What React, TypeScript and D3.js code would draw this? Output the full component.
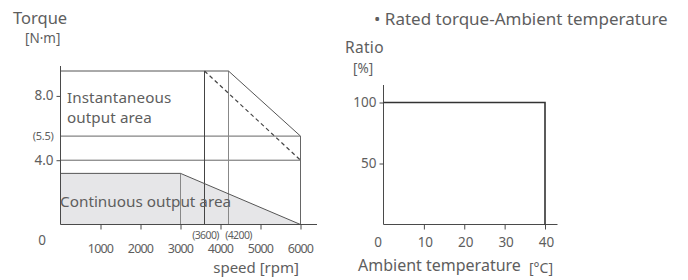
import React, { useEffect, useRef } from 'react';
import * as d3 from 'd3';

// speed-torque chart
const speedTicks = [1000, 2000, 3000, 4000, 5000, 6000];
const torqueTicks = [8, 5.5, 4];
const torqueTickLabels = ['8.0', '(5.5)', '4.0'];
const markSpeeds = [3600, 4200];
const markSpeedLabels = ['(3600)', '(4200)'];

const peakSpeed = [0, 4200, 6000];
const peakTorque = [9.55, 9.55, 5.5];
const dashSpeed = [3600, 6000];
const dashTorque = [9.55, 4.0];
const contSpeed = [0, 3000, 6000];
const contTorque = [3.18, 3.18, 0];

// rated torque - ambient temperature
const tempTicks = [10, 20, 30, 40];
const ratioTicks = [100, 50];
const ratedTemp = [0, 40, 40];
const ratedRatio = [100, 100, 0];

const FONT = '"Noto Sans", sans-serif';
const TEXT = '#5e5e5e';
const LINE = '#4a4a4a';

export default function App() {
  const ref = useRef<SVGSVGElement>(null);

  useEffect(() => {
    if (!ref.current) return;
    const svg = d3.select(ref.current);
    svg.selectAll('*').remove();

    const txt = (x: number, y: number, s: string, size: number, anchor = 'start', ls = 0) =>
      svg
        .append('text')
        .attr('x', x)
        .attr('y', y)
        .attr('font-size', size)
        .attr('font-family', FONT)
        .attr('fill', TEXT)
        .attr('text-anchor', anchor)
        .attr('letter-spacing', ls)
        .text(s);

    // ---------- left chart ----------
    const x = d3.scaleLinear().domain([0, 6000]).range([60.5, 300.5]);
    const y = d3.scaleLinear().domain([0, 9.55]).range([224.5, 71]);

    const pts = (xs: number[], ys: number[]) => xs.map((v, i) => [v, ys[i]] as [number, number]);
    const line = d3
      .line<[number, number]>()
      .x((d) => x(d[0]))
      .y((d) => y(d[1]));

    // continuous area fill
    svg
      .append('path')
      .attr(
        'd',
        d3
          .area<[number, number]>()
          .x((d) => x(d[0]))
          .y0(y(0))
          .y1((d) => y(d[1]))(pts(contSpeed, contTorque)),
      )
      .attr('fill', '#e6e6e8');

    // horizontal guide lines
    [5.5, 4].forEach((t) => {
      svg
        .append('line')
        .attr('x1', x(0))
        .attr('x2', x(6000))
        .attr('y1', y(t))
        .attr('y2', y(t))
        .attr('stroke', '#666')
        .attr('stroke-width', 1);
    });

    // vertical guides
    markSpeeds.forEach((s, i) => {
      svg
        .append('line')
        .attr('x1', x(s))
        .attr('x2', x(s))
        .attr('y1', y(peakTorque[0]))
        .attr('y2', y(0))
        .attr('stroke', i === 0 ? '#444' : '#888')
        .attr('stroke-width', 1);
    });
    svg
      .append('line')
      .attr('x1', x(contSpeed[1]))
      .attr('x2', x(contSpeed[1]))
      .attr('y1', y(contTorque[1]))
      .attr('y2', y(0))
      .attr('stroke', '#888');
    svg
      .append('line')
      .attr('x1', x(6000))
      .attr('x2', x(6000))
      .attr('y1', y(peakTorque[2]))
      .attr('y2', y(0))
      .attr('stroke', '#666');

    // instantaneous outline
    svg
      .append('path')
      .attr('d', line(pts(peakSpeed, peakTorque)))
      .attr('fill', 'none')
      .attr('stroke', '#555')
      .attr('stroke-width', 1);
    svg
      .append('path')
      .attr('d', line(pts(dashSpeed, dashTorque)))
      .attr('fill', 'none')
      .attr('stroke', '#444')
      .attr('stroke-width', 1.2)
      .attr('stroke-dasharray', '4,3');
    // continuous outline
    svg
      .append('path')
      .attr('d', line(pts(contSpeed, contTorque)))
      .attr('fill', 'none')
      .attr('stroke', '#555');

    // axes
    svg
      .append('line')
      .attr('x1', x(0))
      .attr('x2', x(0))
      .attr('y1', 66)
      .attr('y2', y(0))
      .attr('stroke', LINE);
    svg
      .append('line')
      .attr('x1', x(0))
      .attr('x2', 317)
      .attr('y1', y(0))
      .attr('y2', y(0))
      .attr('stroke', LINE);

    const xAxis = svg
      .append('g')
      .attr('transform', `translate(0,${y(0)})`)
      .call(d3.axisBottom(x).tickValues(speedTicks).tickSize(5).tickSizeOuter(0).tickFormat(() => ''));
    xAxis.select('.domain').remove();
    xAxis.selectAll('line').attr('stroke', LINE);

    const yAxis = svg
      .append('g')
      .attr('transform', `translate(${x(0)},0)`)
      .call(d3.axisLeft(y).tickValues([8, 4]).tickSize(4).tickSizeOuter(0).tickFormat(() => ''));
    yAxis.select('.domain').remove();
    yAxis.selectAll('line').attr('stroke', LINE);

    speedTicks.forEach((s) => txt(x(s), 253, String(s), 12.5, 'middle', -0.8));
    torqueTicks.forEach((t, i) =>
      txt(x(0) - 7, y(t) + (i === 1 ? 4 : 4.5), torqueTickLabels[i], i === 1 ? 11 : 13.5, 'end', i === 1 ? -0.3 : 0),
    );
    txt(42, 245, '0', 13.5, 'middle');
    txt(x(markSpeeds[0]) + 1, 239, markSpeedLabels[0], 10.5, 'middle', -0.6);
    txt(x(markSpeeds[1]) + 10, 239, markSpeedLabels[1], 10.5, 'middle', -0.6);

    txt(13, 24, 'Torque', 16.5);
    txt(25, 43, '[N·m]', 13.5);
    txt(299, 273, 'speed [rpm]', 15, 'end');
    txt(67, 103, 'Instantaneous', 15.2, 'start', 0.1);
    txt(67, 123, 'output area', 15.2, 'start', 0.1);
    txt(60, 207, 'Continuous output area', 15.3);

    // ---------- right chart ----------
    const x2 = d3.scaleLinear().domain([0, 40]).range([383.5, 545]);
    const y2 = d3.scaleLinear().domain([0, 100]).range([224.5, 102.5]);

    svg
      .append('line')
      .attr('x1', x2(0))
      .attr('x2', x2(0))
      .attr('y1', 85)
      .attr('y2', y2(0))
      .attr('stroke', LINE);
    svg
      .append('line')
      .attr('x1', x2(0))
      .attr('x2', 557.5)
      .attr('y1', y2(0))
      .attr('y2', y2(0))
      .attr('stroke', LINE);

    const xAxis2 = svg
      .append('g')
      .attr('transform', `translate(0,${y2(0)})`)
      .call(d3.axisBottom(x2).tickValues(tempTicks).tickSize(5).tickSizeOuter(0).tickFormat(() => ''));
    xAxis2.select('.domain').remove();
    xAxis2.selectAll('line').attr('stroke', LINE);
    const yAxis2 = svg
      .append('g')
      .attr('transform', `translate(${x2(0)},0)`)
      .call(d3.axisLeft(y2).tickValues(ratioTicks).tickSize(4).tickSizeOuter(0).tickFormat(() => ''));
    yAxis2.select('.domain').remove();
    yAxis2.selectAll('line').attr('stroke', LINE);

    const line2 = d3
      .line<[number, number]>()
      .x((d) => x2(d[0]))
      .y((d) => y2(d[1]));
    svg
      .append('path')
      .attr('d', line2(pts(ratedTemp, ratedRatio)))
      .attr('fill', 'none')
      .attr('stroke', '#333')
      .attr('stroke-width', 1.6);

    txt(378, 247, '0', 13.5, 'middle');
    tempTicks.forEach((t) => txt(x2(t) + 1.5, 247, String(t), 13.5, 'middle'));
    ratioTicks.forEach((r) => txt(x2(0) - 7, y2(r) + 4.5, String(r), 13.5, 'end'));

    txt(345, 53, 'Ratio', 15.5, 'start', 0.3);
    txt(353, 73, '[%]', 13.5);
    txt(358, 271, 'Ambient temperature', 16);
    txt(529, 273, '[°C]', 14);
    txt(374, 25, '• Rated torque-Ambient temperature', 17);
  }, []);

  return (
    <svg
      ref={ref}
      width={688}
      height={280}
      style={{ position: 'absolute', left: 0, top: 0, background: '#fff' }}
    />
  );
}
